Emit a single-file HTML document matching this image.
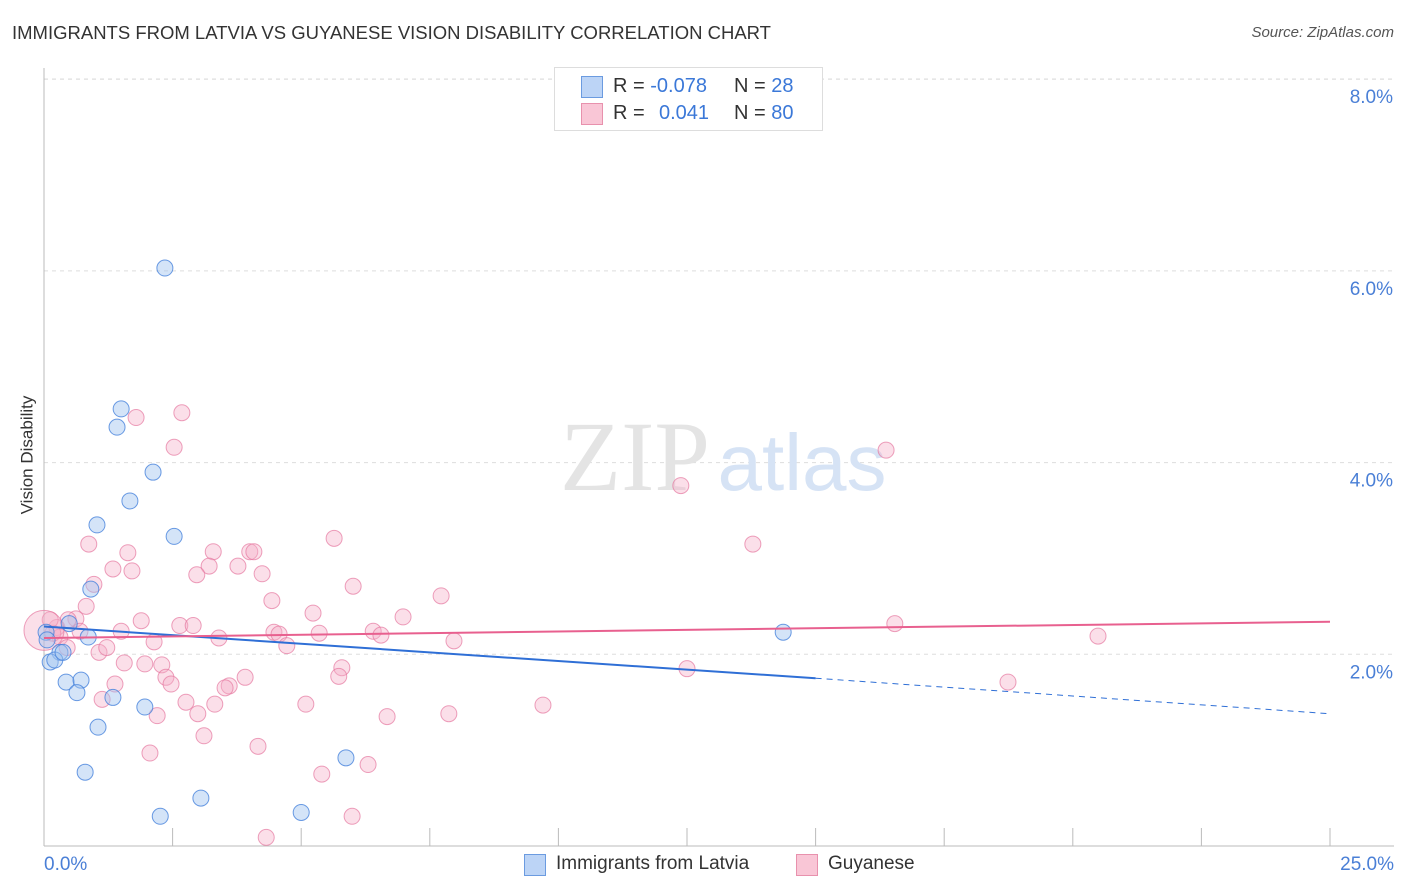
<!DOCTYPE html>
<html><head><meta charset="utf-8"><style>
body{margin:0;background:#fff;font-family:"Liberation Sans",sans-serif;}
#c{position:relative;width:1406px;height:892px;overflow:hidden}
.t{position:absolute;white-space:nowrap}
</style></head><body>
<div id="c">
<div class="t" style="left:12px;top:22px;font-size:18.5px;color:#333">IMMIGRANTS FROM LATVIA VS GUYANESE VISION DISABILITY CORRELATION CHART</div>
<div class="t" style="right:12px;top:24px;font-size:15px;color:#555;font-style:italic">Source: ZipAtlas.com</div>
<div class="t" style="left:-32px;top:445px;font-size:17px;color:#333;transform:rotate(-90deg)">Vision Disability</div>
<svg id="s" width="1406" height="892" style="position:absolute;left:0;top:0"></svg>
<div style="position:absolute;left:554px;top:67px;width:267px;height:62px;border:1px solid #ddd;background:#fff;font-size:20px">
 <div style="position:absolute;left:26px;top:8px;width:20px;height:20px;background:#bcd4f6;border:1px solid #6b9be0"></div>
 <div class="t" style="left:58px;top:7px;color:#333">R = <span style="color:#3b78d8">-0.078</span></div>
 <div class="t" style="left:179px;top:7px;color:#333">N = <span style="color:#3b78d8">28</span></div>
 <div style="position:absolute;left:26px;top:35px;width:20px;height:20px;background:#f9c6d6;border:1px solid #e891ad"></div>
 <div class="t" style="left:58px;top:34px;color:#333">R =</div>
 <div class="t" style="left:104px;top:34px;color:#3b78d8">0.041</div>
 <div class="t" style="left:179px;top:34px;color:#333">N = <span style="color:#3b78d8">80</span></div>
</div>
<div style="position:absolute;left:524px;top:852px;font-size:19px;color:#333">
 <div style="position:absolute;left:0;top:2px;width:20px;height:20px;background:#bcd4f6;border:1px solid #6b9be0"></div>
 <div class="t" style="left:32px;top:1px">Immigrants from Latvia</div>
 <div style="position:absolute;left:272px;top:2px;width:20px;height:20px;background:#f9c6d6;border:1px solid #e891ad"></div>
 <div class="t" style="left:304px;top:1px">Guyanese</div>
</div>
</div>
<script>
const blueX=[2.35,1.50,1.42,2.12,1.67,1.03,2.53,0.91,0.49,0.86,0.31,0.12,0.21,0.43,0.72,0.64,1.34,1.96,1.05,0.80,3.05,5.87,2.26,5.00,14.37,0.04,0.37,0.06];
const blueY=[6.03,4.56,4.37,3.90,3.60,3.35,3.23,2.68,2.32,2.18,2.02,1.92,1.94,1.71,1.73,1.60,1.55,1.45,1.24,0.77,0.50,0.92,0.31,0.35,2.23,2.23,2.02,2.15];
const pinkX=[1.79,2.68,2.53,16.37,12.38,0.87,13.78,5.64,1.63,3.29,4.00,4.08,1.34,1.71,3.77,3.21,2.97,4.24,0.97,6.01,7.72,4.43,0.82,6.98,5.23,1.89,0.62,2.64,2.90,1.50,4.47,4.57,5.35,6.40,6.55,16.54,20.49,3.40,2.14,7.97,4.72,1.07,1.22,1.56,1.96,2.29,5.79,12.50,2.37,2.47,5.73,3.91,3.60,3.52,18.74,1.38,1.13,2.76,3.32,5.09,9.70,2.20,2.99,6.67,7.87,3.11,4.16,2.06,5.40,6.30,5.99,4.32,0.25,0.31,0.17,0.70,0.45,0.47,0.12,0.0];
const pinkY=[4.47,4.52,4.16,4.13,3.76,3.15,3.15,3.21,3.06,3.07,3.07,3.07,2.89,2.87,2.92,2.92,2.83,2.84,2.73,2.71,2.61,2.56,2.50,2.39,2.43,2.35,2.37,2.30,2.30,2.24,2.23,2.21,2.22,2.24,2.20,2.32,2.19,2.17,2.13,2.14,2.09,2.02,2.07,1.91,1.90,1.89,1.86,1.85,1.76,1.69,1.77,1.76,1.67,1.65,1.71,1.69,1.53,1.50,1.48,1.48,1.47,1.36,1.38,1.35,1.38,1.15,1.04,0.97,0.75,0.85,0.31,0.09,2.28,2.18,2.22,2.24,2.07,2.36,2.36,2.25];
const yTicks=[2,4,6,8];
const yTickLabels=["2.0%","4.0%","6.0%","8.0%"];
const blueTrend=[2.29,1.75,1.38];
const pinkTrend=[2.17,2.34];
const X=v=>44+v*51.44, Y=v=>846-v*95.85;
const svgEl=document.getElementById('s'),NS='http://www.w3.org/2000/svg';
function el(t,a){const e=document.createElementNS(NS,t);for(const k in a)e.setAttribute(k,a[k]);svgEl.appendChild(e);return e;}
yTicks.forEach((t,i)=>{
 const g=el('line',{x1:44,x2:1394,y1:Y(t),y2:Y(t),stroke:'#ddd','stroke-dasharray':'4,4'});
 
 
 const tx=el('text',{x:1393,y:Y(t)+24,'text-anchor':'end','font-size':19,fill:'#4a7fd6','font-family':'Liberation Sans'});
 tx.textContent=yTickLabels[i];
 
 
});
const topGrid=el('line',{x1:44,x2:1394,y1:79,y2:79,stroke:'#ddd','stroke-dasharray':'4,4'});


const ax=el('line',{x1:44,x2:44,y1:68,y2:846,stroke:'#bbb'});


const bx=el('line',{x1:44,x2:1394,y1:846,y2:846,stroke:'#bbb'});


for(let i=1;i<=10;i++){const tk=el('line',{x1:X(i*2.5),x2:X(i*2.5),y1:828,y2:846,stroke:'#bbb'});
 
 }
[["0.0%",44,'start'],["25.0%",1394,'end']].forEach(d=>{const t=el('text',{x:d[1],y:870,'text-anchor':d[2],'font-size':19,fill:'#4a7fd6','font-family':'Liberation Sans'});t.textContent=d[0];
 
 });
const w1=el('text',{x:635,y:490,'text-anchor':'middle','font-size':100,fill:'#e4e4e4','font-family':'Liberation Serif'});w1.textContent='ZIP';


const w2=el('text',{x:802,y:490,'text-anchor':'middle','font-size':80,fill:'#d6e3f5','font-family':'Liberation Sans'});w2.textContent='atlas';


pinkX.forEach((x,i)=>{const c=el('circle',{cx:X(x),cy:Y(pinkY[i]),r:i==pinkX.length-1?20:8,fill:'rgba(246,176,200,0.4)',stroke:'rgba(230,120,160,0.7)','stroke-width':1});
 
 });
blueX.forEach((x,i)=>{const c=el('circle',{cx:X(x),cy:Y(blueY[i]),r:8,fill:'rgba(160,196,240,0.45)',stroke:'rgba(70,130,220,0.8)','stroke-width':1});
 
 });
const l1=el('line',{x1:X(0),y1:Y(blueTrend[0]),x2:X(15),y2:Y(blueTrend[1]),stroke:'#2f6fd6','stroke-width':2});


const l2=el('line',{x1:X(15),y1:Y(blueTrend[1]),x2:X(25),y2:Y(blueTrend[2]),stroke:'#2f6fd6','stroke-width':1,'stroke-dasharray':'6,5'});


const l3=el('line',{x1:X(0),y1:Y(pinkTrend[0]),x2:X(25),y2:Y(pinkTrend[1]),stroke:'#e8608f','stroke-width':2});


</script>
</body></html>
